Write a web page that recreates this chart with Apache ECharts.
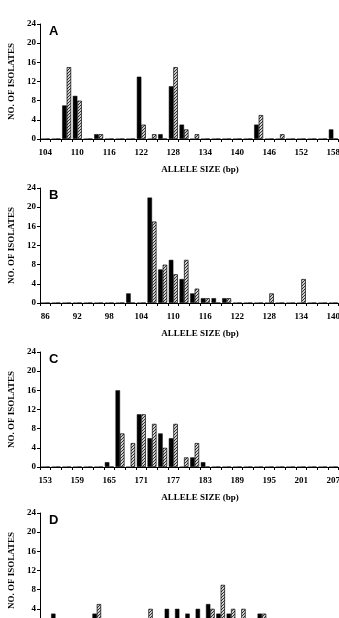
<!DOCTYPE html>
<html><head><meta charset="utf-8">
<script src="https://cdn.jsdelivr.net/npm/echarts@6/dist/echarts.min.js"></script>
<style>html,body{margin:0;padding:0;background:#fff}#c{width:339px;height:618px}</style>
</head><body><div id="c"></div>
<script>
// Panel A
const catsA = [104,106,108,110,112,114,116,118,120,122,124,126,128,130,132,134,136,138,140,142,144,146,148,150,152,154,156,158,160,162];
const blackA = [0,0,7,9,0,1,0,0,0,13,0,1,11,3,0,0,0,0,0,0,3,0,0,0,0,0,0,2,0,0];
const hatchA = [0,0,15,8,0,1,0,0,0,3,1,0,15,2,1,0,0,0,0,0,5,0,1,0,0,0,0,0,0,0];
// Panel B
const catsB = [86,88,90,92,94,96,98,100,102,104,106,108,110,112,114,116,118,120,122,124,126,128,130,132,134,136,138,140,142,144];
const blackB = [0,0,0,0,0,0,0,0,2,0,22,7,9,5,2,1,1,1,0,0,0,0,0,0,0,0,0,0,0,0];
const hatchB = [0,0,0,0,0,0,0,0,0,0,17,8,6,9,3,1,0,1,0,0,0,2,0,0,5,0,0,0,0,0];
// Panel C
const catsC = [153,155,157,159,161,163,165,167,169,171,173,175,177,179,181,183,185,187,189,191,193,195,197,199,201,203,205,207,209,211];
const blackC = [0,0,0,0,0,0,1,16,0,11,6,7,6,0,2,1,0,0,0,0,0,0,0,0,0,0,0,0,0,0];
const hatchC = [0,0,0,0,0,0,0,7,5,11,9,4,9,2,5,0,0,0,0,0,0,0,0,0,0,0,0,0,0,0];
// Panel D (x labels are below the visible area; placeholder allele sizes)
const catsD = [200,202,204,206,208,210,212,214,216,218,220,222,224,226,228,230,232,234,236,238,240,242,244,246,248,250,252,254,256,258,260];
const blackD = [0,3,0,0,0,3,0,0,0,0,0,0,4,4,3,4,5,3,3,0,0,3,0,0,0,0,0,0,0,0,0];
const hatchD = [0,0,0,0,0,5,0,0,0,0,4,0,0,0,0,0,4,9,4,4,0,3,0,2,0,0,0,0,0,0,0];

const panelLetters = ['A','B','C','D'];
const yAxisTitle = 'NO. OF ISOLATES';
const xAxisTitle = 'ALLELE SIZE (bp)';
const yMax = 24, yStep = 4;

const panels = [
  {cats: catsA, black: blackA, hatch: hatchA},
  {cats: catsB, black: blackB, hatch: hatchB},
  {cats: catsC, black: blackC, hatch: hatchC},
  {cats: catsD, black: blackD, hatch: hatchD}
];
const tops = [24, 188, 352, 513];

// hatch pattern
const pc = document.createElement('canvas');
pc.width = 3; pc.height = 3;
const g = pc.getContext('2d');
g.fillStyle = '#d0d0d0'; g.fillRect(0,0,3,3);
g.strokeStyle = '#333'; g.lineWidth = 1;
g.beginPath(); g.moveTo(0,3); g.lineTo(3,0); g.moveTo(-1,1); g.lineTo(1,-1); g.moveTo(2,4); g.lineTo(4,2); g.stroke();

const serif = 'Liberation Serif';
const grid = [], xAxis = [], yAxis = [], series = [], title = [];
panels.forEach((p, i) => {
  grid.push({left: 40, width: 320, top: tops[i], height: 115, containLabel: false, outerBoundsMode: 'none'});
  xAxis.push({
    type: 'category', gridIndex: i, data: p.cats, boundaryGap: true,
    name: xAxisTitle, nameLocation: 'middle', nameGap: 26,
    nameTextStyle: {fontFamily: serif, fontWeight: 'bold', fontSize: 9, color: '#000'},
    axisLine: {lineStyle: {color: '#000', width: 1}},
    axisTick: {show: true, interval: 0, length: 3, lineStyle: {color: '#000'}},
    axisLabel: {interval: 2, margin: 9, fontFamily: serif, fontWeight: 'bold', fontSize: 9, color: '#000'}
  });
  yAxis.push({
    type: 'value', gridIndex: i, min: 0, max: yMax, interval: yStep,
    name: yAxisTitle, nameLocation: 'middle', nameGap: 18,
    nameTextStyle: {fontFamily: serif, fontWeight: 'bold', fontSize: 9, color: '#000'},
    axisLine: {show: true, lineStyle: {color: '#000', width: 1}},
    axisTick: {show: true, length: 3, lineStyle: {color: '#000'}},
    splitLine: {show: false},
    axisLabel: {margin: 4, fontFamily: serif, fontWeight: 'bold', fontSize: 9, color: '#000'}
  });
  series.push({
    type: 'bar', xAxisIndex: i, yAxisIndex: i, data: p.black,
    barGap: '0%', barCategoryGap: '16%',
    itemStyle: {color: '#000', borderColor: '#000', borderWidth: 0.5}
  });
  series.push({
    type: 'bar', xAxisIndex: i, yAxisIndex: i, data: p.hatch,
    barGap: '0%', barCategoryGap: '16%',
    itemStyle: {color: {image: pc, repeat: 'repeat'}, borderColor: '#000', borderWidth: 0.7}
  });
  title.push({text: panelLetters[i], left: 49, top: tops[i] + 1, padding: 0,
    textStyle: {fontFamily: 'Liberation Sans', fontWeight: 'bold', fontSize: 13, color: '#000'}});
});

const chart = echarts.init(document.getElementById('c'), null, {renderer: 'canvas'});
chart.setOption({animation: false, backgroundColor: '#fff', title, grid, xAxis, yAxis, series});
</script></body></html>
